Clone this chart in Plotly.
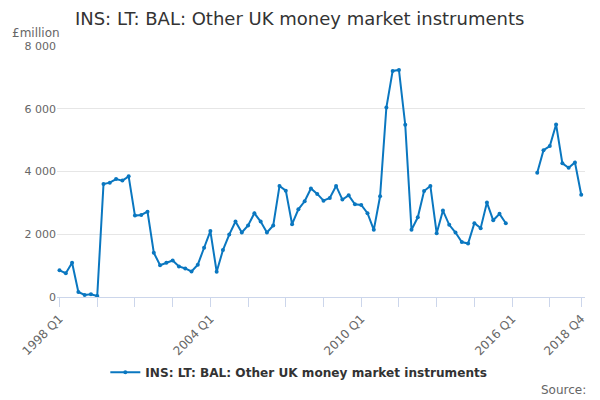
import plotly.graph_objects as go

# quarters 1998 Q1 .. 2018 Q4
quarters = [f"{y} Q{q}" for y in range(1998, 2019) for q in range(1, 5)]

# £million (None = no data)
values = [
    850, 760, 1090, 160, 65, 85, 30, 3600,
    3645, 3760, 3710, 3845, 2595, 2615, 2720, 1410,
    1015, 1090, 1165, 975, 910, 815, 1030, 1570,
    2100, 805, 1495, 1990, 2405, 2055, 2280, 2670,
    2405, 2055, 2280, 3540, 3390, 2320, 2795, 3050,
    3460, 3285, 3070, 3155, 3540, 3105, 3240, 2955,
    2935, 2670, 2140, 3210, 6040, 7205, 7235, 5490,
    2140, 2540, 3380, 3540, 2035, 2755, 2300, 2055,
    1750, 1705, 2350, 2195, 3010, 2445, 2650, 2350,
    None, None, None, None, 3960, 4680, 4810, 5500,
    4260, 4120, 4290, 3260,
]

series_name = "INS: LT: BAL: Other UK money market instruments"
labelled = ["1998 Q1", "2004 Q1", "2010 Q1", "2016 Q1", "2018 Q4"]

tick_vals = quarters[0:84:6] + ["2018 Q4"]
tick_text = [q if q in labelled else "" for q in tick_vals]

fig = go.Figure()
fig.add_trace(go.Scatter(
    x=quarters,
    y=values,
    mode="lines+markers",
    name=series_name,
    line=dict(color="#0a77c0", width=2),
    marker=dict(color="#0a77c0", size=4),
    connectgaps=False,
))

fig.update_xaxes(
    type="category",
    range=[-0.4, 83.6],
    tickmode="array",
    tickvals=tick_vals,
    ticktext=tick_text,
    tickangle=-45,
    ticks="outside",
    ticklen=9,
    tickcolor="#ccd6eb",
    showline=True,
    linecolor="#ccd6eb",
    showgrid=False,
    automargin=False,
    tickfont=dict(size=12, color="#666666"),
)
fig.update_yaxes(
    range=[0, 8000],
    tickvals=[0, 2000, 4000, 6000, 8000],
    tickformat=",d",
    gridcolor="#e6e6e6",
    zeroline=False,
    automargin=False,
    tickfont=dict(size=11, color="#666666"),
)

# page body has an 8px margin, so the figure is 8px smaller each way
fig.update_layout(
    width=592,
    height=392,
    separators=". ",
    font=dict(family="DejaVu Sans", color="#333333"),
    title=dict(
        text=series_name,
        x=0.113, xanchor="left",
        y=0.972, yanchor="middle",
        font=dict(size=18, color="#333333"),
    ),
    showlegend=True,
    legend=dict(
        orientation="h",
        x=0.458, xanchor="center",
        y=-0.30, yanchor="middle",
        font=dict(size=12.1, color="#333333", weight="bold"),
    ),
    plot_bgcolor="white",
    paper_bgcolor="white",
    margin=dict(l=49, r=15, t=38, b=103),
    annotations=[
        dict(text="£million", xref="paper", yref="paper", x=-0.089, y=1.05,
             xanchor="left", yanchor="middle", showarrow=False,
             font=dict(size=12, color="#666666")),
        dict(text="Source:", xref="paper", yref="paper", x=1.006, y=-0.37,
             xanchor="right", yanchor="middle", showarrow=False,
             font=dict(size=12, color="#666666")),
    ],
)

fig.write_html("out.html")
